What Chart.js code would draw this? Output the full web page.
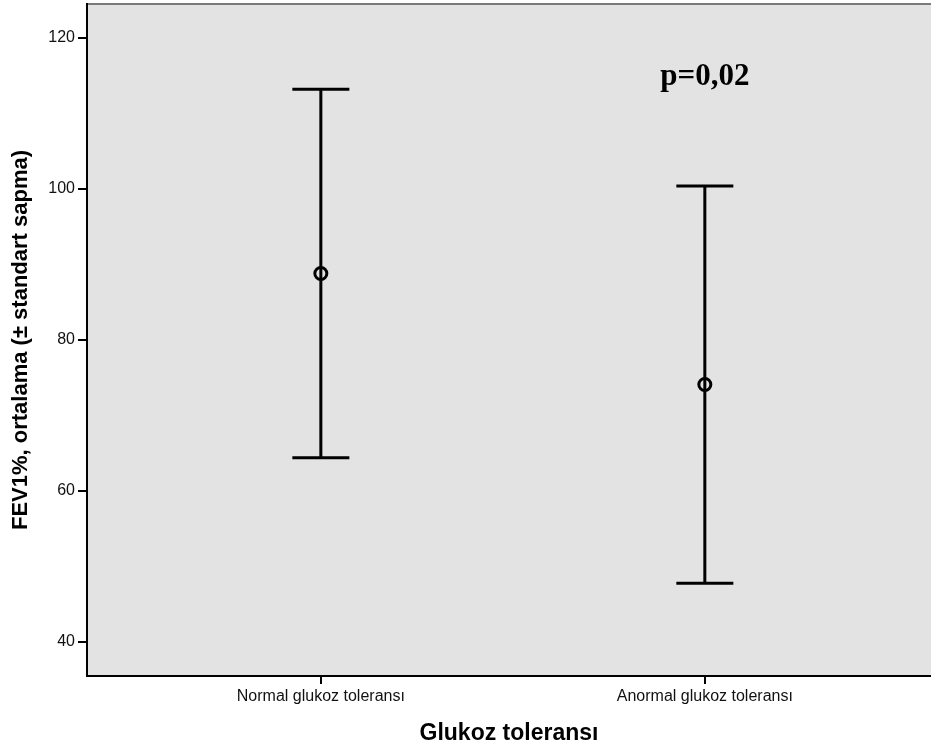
<!DOCTYPE html>
<html>
<head>
<meta charset="utf-8">
<script src="https://cdn.jsdelivr.net/npm/chart.js@4.4.1/dist/chart.umd.min.js"></script>
<style>
  html, body { margin: 0; padding: 0; background: #fff; }
  #wrap { width: 931px; height: 751px; }
</style>
</head>
<body>
<div id="wrap"><canvas id="chart"></canvas></div>
<script>
// data
const categories = ['Normal glukoz toleransı', 'Anormal glukoz toleransı'];
const means = [88.8, 74.1];
const upper = [113.2, 100.4];
const lower = [64.4, 47.8];
const yTicks = [40, 60, 80, 100, 120];
const pLabel = 'p=0,02';

const xs = categories.map((c, i) => i + 1);

// vertical whiskers, broken between groups with null
const whisker = [];
xs.forEach((x, i) => {
  whisker.push({ x: x, y: lower[i] }, { x: x, y: upper[i] });
  if (i < xs.length - 1) whisker.push({ x: x + 0.5, y: null });
});
const caps = [];
xs.forEach((x, i) => {
  caps.push({ x: x, y: lower[i] }, { x: x, y: upper[i] });
});

const FONT = '"Liberation Sans", Arial, sans-serif';

const bgPlugin = {
  id: 'plotBg',
  beforeDraw(chart) {
    const { ctx, chartArea: a } = chart;
    ctx.save();
    ctx.fillStyle = '#e3e3e3';
    ctx.fillRect(a.left, a.top, a.right - a.left, a.bottom - a.top);
    ctx.strokeStyle = '#7a7a7a';
    ctx.lineWidth = 2;
    ctx.beginPath();
    ctx.moveTo(a.left, a.top);
    ctx.lineTo(a.right, a.top);
    ctx.stroke();
    ctx.restore();
  },
  afterDraw(chart) {
    const { ctx, scales } = chart;
    ctx.save();
    ctx.font = 'bold 31px "Liberation Serif", serif';
    ctx.fillStyle = '#000';
    ctx.textAlign = 'center';
    ctx.textBaseline = 'middle';
    ctx.fillText(pLabel, scales.x.getPixelForValue(2), scales.y.getPixelForValue(114.8));
    ctx.restore();
  }
};

new Chart(document.getElementById('chart'), {
  type: 'scatter',
  data: {
    datasets: [
      {
        type: 'line',
        data: whisker,
        borderColor: '#000',
        borderWidth: 3,
        pointRadius: 0,
        spanGaps: false
      },
      {
        data: caps,
        pointStyle: 'line',
        pointRadius: 28.5,
        borderColor: '#000',
        borderWidth: 3
      },
      {
        data: xs.map((x, i) => ({ x: x, y: means[i] })),
        pointStyle: 'circle',
        pointRadius: 6,
        backgroundColor: '#e3e3e3',
        borderColor: '#000',
        borderWidth: 3
      }
    ]
  },
  options: {
    responsive: true,
    maintainAspectRatio: false,
    animation: false,
    layout: { autoPadding: false, padding: { top: 4, right: 0, left: 0, bottom: 0 } },
    plugins: {
      legend: { display: false },
      tooltip: { enabled: false }
    },
    scales: {
      x: {
        type: 'linear',
        min: 0.391,
        max: 2.589,
        afterBuildTicks: (s) => { s.ticks = xs.map(v => ({ value: v })); },
        afterFit: (s) => { s.height = 75; s.paddingLeft = 0; s.paddingRight = 0; },
        ticks: {
          callback: (v) => categories[v - 1] || '',
          color: '#111',
          font: { family: FONT, size: 16 },
          padding: 3,
          maxRotation: 0
        },
        grid: { drawOnChartArea: false, drawTicks: true, tickLength: 8, color: '#000', lineWidth: 2 },
        border: { color: '#000', width: 2 },
        title: {
          display: true,
          text: 'Glukoz toleransı',
          color: '#000',
          font: { family: FONT, size: 23, weight: 'bold' },
          padding: { top: 8 }
        }
      },
      y: {
        min: 35.5,
        max: 124.5,
        afterBuildTicks: (s) => { s.ticks = yTicks.map(v => ({ value: v })); },
        afterFit: (s) => { s.width = 87; s.paddingTop = 0; s.paddingBottom = 0; },
        ticks: {
          color: '#111',
          font: { family: FONT, size: 16 },
          padding: 3
        },
        grid: { drawOnChartArea: false, drawTicks: true, tickLength: 9, color: '#000', lineWidth: 2 },
        border: { color: '#000', width: 2 },
        title: {
          display: true,
          text: 'FEV1%, ortalama (± standart sapma)',
          color: '#000',
          font: { family: FONT, size: 22, weight: 'bold' },
          padding: { top: 8, bottom: 4 }
        }
      }
    }
  },
  plugins: [bgPlugin]
});
</script>
</body>
</html>
